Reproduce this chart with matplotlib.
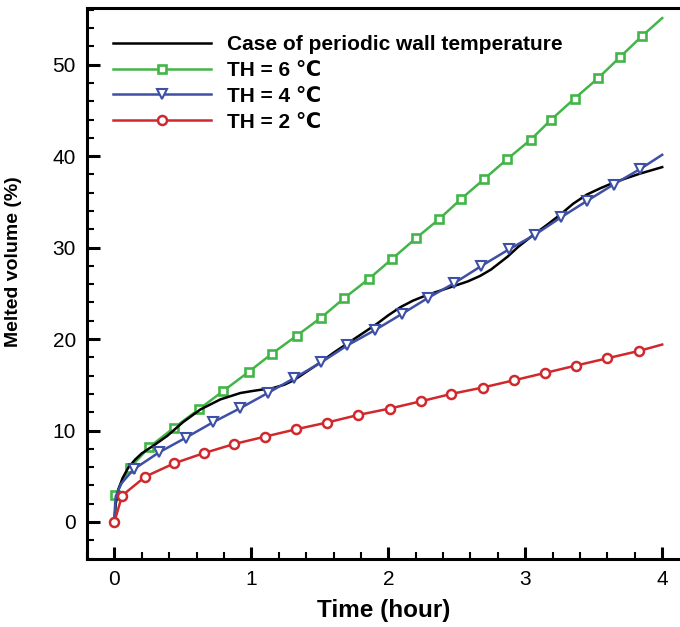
import matplotlib
matplotlib.use("Agg")
import matplotlib.pyplot as plt
from matplotlib.ticker import MultipleLocator

plt.rcParams['font.family'] = ['Liberation Sans', 'DejaVu Sans']

# periodic wall temperature case (black)
t_per = [0, 0.01, 0.03, 0.06, 0.1, 0.15, 0.2, 0.3, 0.385, 0.5, 0.628, 0.774, 0.92, 1.0,
         1.066, 1.16, 1.24, 1.31, 1.4, 1.5, 1.6, 1.7, 1.8, 1.92, 2.0, 2.09, 2.18, 2.28,
         2.38, 2.48, 2.58, 2.67, 2.75, 2.87, 2.95, 3.06, 3.16, 3.255, 3.35, 3.45, 3.55,
         3.645, 3.74, 3.84, 3.92, 4.0]
v_per = [0, 2.0, 3.6, 4.8, 5.9, 6.8, 7.5, 8.5, 9.4, 10.9, 12.3, 13.4, 14.1, 14.3,
         14.45, 14.65, 15.0, 15.5, 16.4, 17.4, 18.5, 19.5, 20.5, 21.7, 22.6, 23.5, 24.2, 24.8,
         25.3, 25.8, 26.3, 26.9, 27.6, 29.0, 30.1, 31.4, 32.5, 33.6, 34.8, 35.8, 36.5,
         37.1, 37.6, 38.1, 38.45, 38.8]

# TH = 6 C (green, squares)
t_th6 = [0, 0.007, 0.112, 0.256, 0.435, 0.615, 0.793, 0.98, 1.15, 1.33, 1.51, 1.68, 1.86,
         2.03, 2.2, 2.37, 2.53, 2.70, 2.87, 3.04, 3.19, 3.36, 3.53, 3.69, 3.85, 4.0]
v_th6 = [0, 2.95, 5.9, 8.2, 10.3, 12.3, 14.3, 16.4, 18.4, 20.35, 22.35, 24.5, 26.6,
         28.8, 31.0, 33.1, 35.3, 37.5, 39.7, 41.8, 44.0, 46.3, 48.5, 50.8, 53.1, 55.1]

# TH = 4 C (blue, down triangles)
t_th4 = [0, 0.01, 0.05, 0.14, 0.325, 0.52, 0.72, 0.92, 1.12, 1.31, 1.51, 1.70, 1.905,
         2.10, 2.29, 2.48, 2.68, 2.88, 3.07, 3.26, 3.45, 3.645, 3.84, 4.0]
v_th4 = [0, 2.8, 4.2, 5.75, 7.6, 9.2, 10.9, 12.45, 14.1, 15.7, 17.45, 19.3, 21.0,
         22.75, 24.5, 26.1, 28.0, 29.8, 31.4, 33.3, 35.1, 36.9, 38.6, 40.15]

# TH = 2 C (red, circles)
t_th2 = [0, 0.056, 0.226, 0.438, 0.652, 0.876, 1.10, 1.328, 1.55, 1.78, 2.01, 2.24,
         2.46, 2.69, 2.92, 3.146, 3.37, 3.60, 3.83, 4.0]
v_th2 = [0, 2.88, 4.96, 6.42, 7.52, 8.53, 9.33, 10.14, 10.86, 11.7, 12.4, 13.2,
         14.0, 14.7, 15.5, 16.3, 17.1, 17.9, 18.7, 19.4]

labels = ["Case of periodic wall temperature", "TH = 6 \u2103", "TH = 4 \u2103", "TH = 2 \u2103"]

green, blue, red = "#43b548", "#3e4fa6", "#d0282c"
LW = 1.8

fig = plt.figure(figsize=(6.8, 6.27), dpi=100)
ax = fig.add_axes([87 / 680, 1 - 559 / 627, 1 - 87 / 680, (559 - 8) / 627])

ax.plot(t_per, v_per, color="black", lw=LW, label=labels[0], zorder=3)
ax.plot(t_th6, v_th6, color=green, lw=LW, marker="s", ms=5.5, mfc="white", mec=green, mew=1.9,
        markevery=list(range(1, len(t_th6) - 1)), label=labels[1], zorder=2)
ax.plot(t_th4, v_th4, color=blue, lw=LW, marker="v", ms=7, mfc="white", mec=blue, mew=1.5,
        markevery=list(range(3, len(t_th4) - 1)), label=labels[2], zorder=4)
ax.plot(t_th2, v_th2, color=red, lw=LW, marker="o", ms=6.5, mfc="white", mec=red, mew=1.8,
        markevery=list(range(0, len(t_th2) - 1)), label=labels[3], zorder=5)

ax.set_xlim(-0.2, 4.13)
ax.set_ylim(-4.05, 56.2)
ax.xaxis.set_major_locator(MultipleLocator(1))
ax.xaxis.set_minor_locator(MultipleLocator(0.2))
ax.yaxis.set_major_locator(MultipleLocator(10))
ax.yaxis.set_minor_locator(MultipleLocator(2))
ax.tick_params(which="major", direction="in", length=9, width=2.2, labelsize=15, pad=8)
ax.tick_params(which="minor", direction="in", length=5, width=1.5)
ax.tick_params(top=False, right=False)
for s in ["left", "bottom", "top"]:
    ax.spines[s].set_linewidth(2.2)
ax.spines["right"].set_visible(False)

ax.set_xlabel("Time (hour)", fontsize=17.5, fontweight="bold", labelpad=7)
ax.set_ylabel("Melted volume (%)", fontsize=14, fontweight="bold")
ax.yaxis.set_label_coords(-0.11, 0.539)

ax.legend(loc="upper left", bbox_to_anchor=(0.013, 0.985), frameon=False,
          handlelength=4.7, handletextpad=0.77, labelspacing=0.33,
          prop={"weight": "bold", "size": 15, "family": ["Liberation Sans", "DejaVu Sans"]})

fig.savefig("out.png", dpi=100)
